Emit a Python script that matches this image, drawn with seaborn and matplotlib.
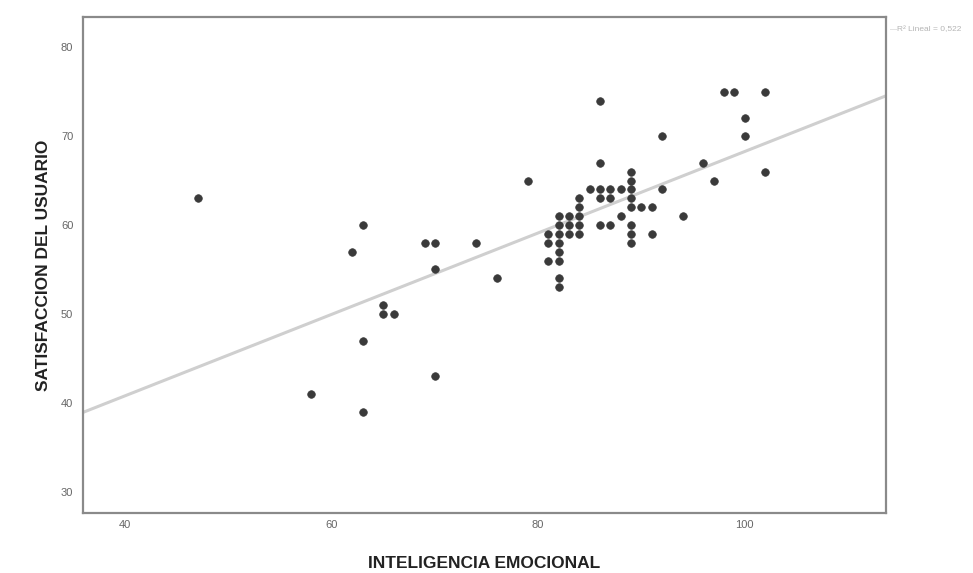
import numpy as np
import pandas as pd
import matplotlib
matplotlib.use("Agg")
import matplotlib.pyplot as plt
import seaborn as sns

# Data (INTELIGENCIA EMOCIONAL vs SATISFACCION DEL USUARIO)
inteligencia = [
    47, 58, 62, 63, 63, 63, 65, 65, 66, 69, 70, 70, 70, 74, 76, 79,
    81, 81, 81,
    82, 82, 82, 82, 82, 82, 82, 82,
    83, 83, 83,
    84, 84, 84, 84, 84,
    85,
    86, 86, 86, 86, 86,
    87, 87, 87,
    88, 88,
    89, 89, 89, 89, 89, 89, 89, 89,
    90,
    91, 91,
    92, 92, 94, 96, 97, 98, 99, 100, 100, 102, 102,
]
satisfaccion = [
    63, 41, 57, 60, 47, 39, 51, 50, 50, 58, 58, 55, 43, 58, 54, 65,
    59, 58, 56,
    61, 60, 59, 58, 57, 56, 54, 53,
    61, 60, 59,
    63, 62, 61, 60, 59,
    64,
    64, 63, 60, 74, 67,
    64, 63, 60,
    64, 61,
    66, 65, 64, 63, 62, 60, 59, 58,
    62,
    62, 59,
    70, 64, 61, 67, 65, 75, 75, 72, 70, 75, 66,
]
x_ticks = [40, 60, 80, 100]
y_ticks = [30, 40, 50, 60, 70, 80]
x_label = "INTELIGENCIA EMOCIONAL"
y_label = "SATISFACCION DEL USUARIO"

df = pd.DataFrame({"x": inteligencia, "y": satisfaccion})

sns.set_style("white")
plt.rcParams["font.family"] = ["Liberation Sans", "DejaVu Sans"]

fig = plt.figure(figsize=(9.73, 5.73), dpi=100)
ax = fig.add_axes([83 / 973, 1 - 513 / 573, (886 - 83) / 973, (513 - 17) / 573])

xlim = (35.9, 113.7)
ylim = (27.6, 83.4)
ax.set_xlim(*xlim)
ax.set_ylim(*ylim)

sns.regplot(
    data=df, x="x", y="y", ax=ax, ci=None, truncate=False,
    scatter_kws=dict(s=30, color="#3a3a3a", edgecolor="#3a3a3a", linewidths=0.5, alpha=1, zorder=3),
    line_kws=dict(color="#cfcfcf", lw=2.2, zorder=2),
)
ax.set_xlim(*xlim)
ax.set_ylim(*ylim)

ax.set_xticks(x_ticks)
ax.set_yticks(y_ticks)
ax.set_xticklabels([str(v) for v in x_ticks])
ax.set_yticklabels([str(v) for v in y_ticks])
ax.tick_params(axis="both", length=3, width=0.8, color="#aaaaaa", labelsize=8, labelcolor="#666666")
ax.tick_params(axis="x", pad=2)
ax.tick_params(axis="y", pad=4)

ax.set_xlabel(x_label, fontsize=12.5, fontweight="bold", color="#222222", labelpad=19)
ax.set_ylabel(y_label, fontsize=12.5, fontweight="bold", color="#222222", labelpad=7)

for sp in ax.spines.values():
    sp.set_visible(True)
    sp.set_color("#8a8a8a")
    sp.set_linewidth(1.6)

# R² annotation (cut at the right edge as in the reference)
r = np.corrcoef(df["x"], df["y"])[0, 1]
fig.text(890 / 973, 1 - 30 / 573, "\u2014", fontsize=5, color="#c8c8c8", va="center", ha="left")
fig.text(897 / 973, 1 - 30 / 573, "R² Lineal = " + f"{r**2:.3f}".replace(".", ","),
         fontsize=6, color="#b5b5b5", va="center", ha="left")

fig.savefig("out.png", dpi=100, facecolor="white")
